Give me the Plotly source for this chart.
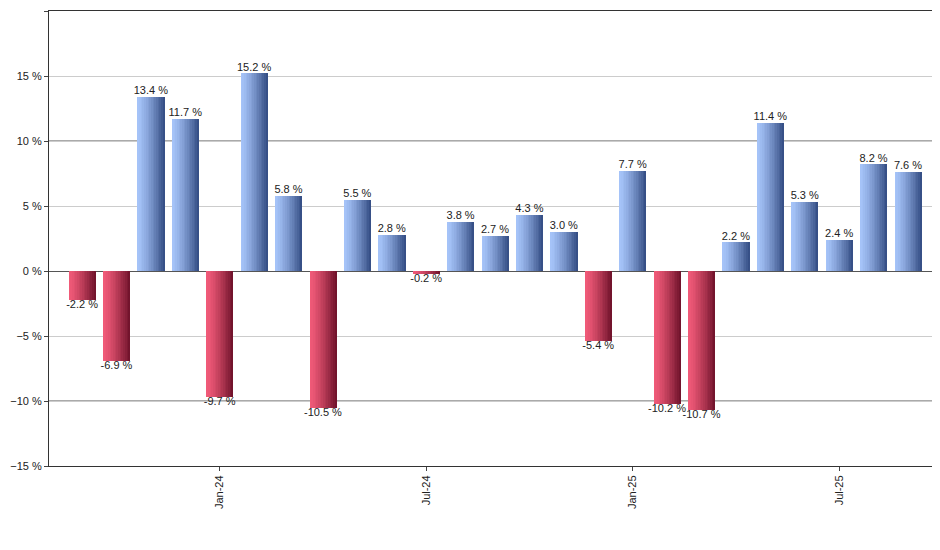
import plotly.graph_objects as go

months = ["Sep-23","Oct-23","Nov-23","Dec-23","Jan-24","Feb-24","Mar-24","Apr-24","May-24","Jun-24",
          "Jul-24","Aug-24","Sep-24","Oct-24","Nov-24","Dec-24","Jan-25","Feb-25","Mar-25","Apr-25",
          "May-25","Jun-25","Jul-25","Aug-25","Sep-25"]
values = [-2.2,-6.9,13.4,11.7,-9.7,15.2,5.8,-10.5,5.5,2.8,-0.2,3.8,2.7,4.3,3.0,-5.4,7.7,-10.2,-10.7,2.2,11.4,5.3,2.4,8.2,7.6]
tick_labels = ["Jan-24","Jul-24","Jan-25","Jul-25"]

x = list(range(len(values)))
tickvals = [months.index(t) for t in tick_labels]

def lerp(c1, c2, t):
    return "rgb(%d,%d,%d)" % tuple(round(a + (b - a) * t) for a, b in zip(c1, c2))

blue_l, blue_d = (165, 195, 248), (55, 80, 135)
red_l, red_d = (240, 90, 120), (115, 20, 45)

fig = go.Figure()
W = 0.78
N = 16
for i in range(N):
    t = i / (N - 1)
    t2 = t ** 1.3
    colors = [lerp(blue_l, blue_d, t2) if v >= 0 else lerp(red_l, red_d, t2) for v in values]
    fig.add_trace(go.Bar(x=x, y=values, width=W / N + 0.01, offset=-W / 2 + i * W / N,
                         marker=dict(color=colors, line=dict(width=0)), hoverinfo="skip", showlegend=False))

labels = [f"{v:.1f} %" for v in values]
fig.add_trace(go.Scatter(x=x, y=values, mode="text", text=labels,
                         textposition=["top center" if v >= 0 else "bottom center" for v in values],
                         textfont=dict(size=11, color="#222", family="Liberation Sans, Arial"),
                         showlegend=False, hoverinfo="skip"))

for yv in [10, -10]:
    fig.add_shape(type="line", xref="paper", x0=0, x1=1, y0=yv, y1=yv, line=dict(color="#555", width=1), layer="below")

fig.update_layout(
    width=940, height=550, barmode="overlay", bargap=0,
    margin=dict(l=41, r=7, t=3, b=92),
    plot_bgcolor="white", paper_bgcolor="white",
    font=dict(family="Liberation Sans, Arial", size=11, color="#222"),
    xaxis=dict(range=[-0.96, len(values) - 0.04], tickvals=tickvals, ticktext=tick_labels,
               tickangle=-90, showgrid=False, showline=True, linecolor="#333", mirror=True,
               ticks="outside", ticklen=4, zeroline=False, automargin=False),
    yaxis=dict(range=[-15, 20], dtick=5, ticksuffix=" %", showgrid=True, gridcolor="#ccc",
               zeroline=True, zerolinecolor="#555", zerolinewidth=1, showline=True,
               linecolor="#333", mirror=True, ticks="outside", ticklen=4, automargin=False),
)
fig.write_html("out.html")
